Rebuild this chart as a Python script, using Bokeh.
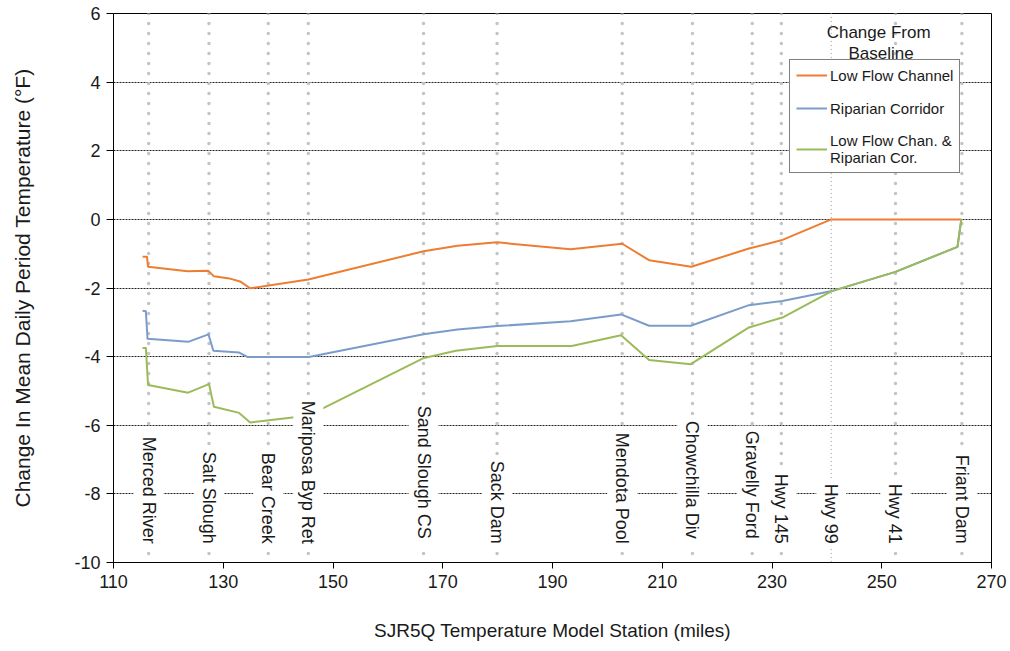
import math
from bokeh.plotting import figure
from bokeh.models import Range1d, FixedTicker, Span, Legend, LegendItem, Label, ColumnDataSource
from bokeh.core.properties import value
from bokeh.embed import file_html
from bokeh.resources import INLINE

# ---- data ----
stations = ["Merced River", "Salt Slough", "Bear Creek", "Mariposa Byp Ret", "Sand Slough  CS",
            "Sack Dam", "Mendota Pool", "Chowchilla  Div", "Gravelly  Ford", "Hwy 145", "Hwy 99",
            "Hwy 41", "Friant Dam"]
station_miles = [116.4, 127.4, 138.2, 145.5, 166.5, 179.9, 202.7, 215.5, 226.4, 231.7, 240.8, 252.5, 264.6]

lfc_x = [115.3, 116.1, 116.3, 123.5, 127.3, 128.3, 131.1, 133.2, 134.1, 134.9, 145.5, 166.5, 172.7,
         179.9, 193.3, 202.7, 207.6, 215.3, 225.8, 231.7, 240.8, 264.5]
lfc_y = [-1.09, -1.09, -1.38, -1.51, -1.50, -1.66, -1.72, -1.82, -1.92, -2.01, -1.75, -0.93, -0.77,
         -0.67, -0.87, -0.71, -1.19, -1.38, -0.85, -0.61, 0.0, 0.0]

rc_x = [115.3, 115.9, 116.2, 123.6, 127.3, 128.2, 132.9, 134.4, 145.6, 166.5, 172.7, 179.9, 193.3,
        202.5, 207.6, 215.2, 225.8, 231.9, 240.9, 252.5, 263.8, 264.5]
rc_y = [-2.66, -2.68, -3.48, -3.57, -3.35, -3.83, -3.88, -4.01, -4.01, -3.35, -3.21, -3.11, -2.97,
        -2.77, -3.10, -3.10, -2.50, -2.38, -2.09, -1.53, -0.80, 0.0]

both_x = [115.3, 115.9, 116.3, 123.6, 127.4, 128.3, 132.9, 134.9, 143.0, 145.5, 166.4, 172.4, 179.9,
          193.5, 202.5, 207.6, 215.2, 225.8, 231.9, 240.9, 252.5, 263.8, 264.5]
both_y = [-3.75, -3.75, -4.83, -5.05, -4.80, -5.46, -5.64, -5.92, -5.77, -5.72, -4.05, -3.83, -3.69,
          -3.69, -3.38, -4.10, -4.22, -3.15, -2.86, -2.09, -1.53, -0.80, 0.0]

series_names = ["Low Flow Channel", "Riparian Corridor", "Low Flow Chan. &\nRiparian Cor."]
x_ticks = [110, 130, 150, 170, 190, 210, 230, 250, 270]
y_ticks = [-10, -8, -6, -4, -2, 0, 2, 4, 6]

FONT = "Liberation Sans"
TXT = "#1a1a1a"

p = figure(width=1010, height=651, output_backend="svg", toolbar_location=None,
           x_range=Range1d(110, 270), y_range=Range1d(-10, 6),
           min_border_left=113, min_border_right=19, min_border_top=13, min_border_bottom=89)
p.background_fill_color = "white"
p.border_fill_color = "white"
p.outline_line_color = "black"
p.outline_line_width = 1

p.xaxis.ticker = FixedTicker(ticks=x_ticks)
p.yaxis.ticker = FixedTicker(ticks=y_ticks)
p.yaxis.major_label_overrides = {t: str(t) for t in y_ticks}
p.xaxis.major_label_overrides = {t: str(t) for t in x_ticks}
for ax in (p.xaxis[0], p.yaxis[0]):
    ax.axis_line_color = "black"
    ax.major_tick_line_color = "black"
    ax.major_tick_in = 0
    ax.minor_tick_line_color = None
    ax.major_label_text_font = FONT
    ax.major_label_text_font_size = "18px"
    ax.major_label_text_color = TXT
    ax.axis_label_text_font = FONT
    ax.axis_label_text_font_style = "normal"
    ax.axis_label_text_color = TXT
p.xaxis.major_tick_out = 6
p.xaxis.major_label_standoff = 6
p.yaxis.major_tick_out = 7
p.yaxis.major_label_standoff = 6
p.xaxis.axis_label = "SJR5Q Temperature Model Station (miles)"
p.xaxis.axis_label_text_font_size = "19px"
p.xaxis.axis_label_standoff = 29
p.yaxis.axis_label = "Change In Mean Daily Period Temperature (\u00b0F)"
p.yaxis.axis_label_text_font_size = "21px"
p.yaxis.axis_label_standoff = 37

p.xgrid.visible = False
p.ygrid.grid_line_color = "#222222"
p.ygrid.grid_line_width = 1
p.ygrid.grid_line_dash = "2 1"

# station dotted verticals
for name, m in zip(stations, station_miles):
    if name == "Hwy 99":
        s = Span(location=m, dimension="height", line_color="#bdbdbd", line_width=1.5,
                 line_dash="0 4", line_cap="round", level="underlay")
    else:
        s = Span(location=m, dimension="height", line_color="#c4c4c4", line_width=3.5,
                 line_dash="0 10", line_cap="round", level="underlay")
    p.add_layout(s)

colors = ["#ED7D31", "#7B9CCB", "#9BBB59"]
r1 = p.line(lfc_x, lfc_y, line_color=colors[0], line_width=2, line_join="round")
r2 = p.line(rc_x, rc_y, line_color=colors[1], line_width=2, line_join="round")
r3 = p.line(both_x, both_y, line_color=colors[2], line_width=2, line_join="round")

label_y = p.y_range.start + 0.4
src = ColumnDataSource(dict(x=station_miles, y=[label_y] * len(stations), t=stations))
p.text(x="x", y="y", text="t", source=src, angle=-math.pi / 2, text_align="right",
       text_baseline="middle", text_font=value(FONT), text_font_size="18px", text_color=TXT,
       background_fill_color="white", padding=5)

legend = Legend(items=[LegendItem(label=series_names[0], renderers=[r1]),
                       LegendItem(label=series_names[1], renderers=[r2]),
                       LegendItem(label=series_names[2], renderers=[r3])],
                location=(676, 389), orientation="vertical")
legend.label_text_font = FONT
legend.label_text_font_size = "15px"
legend.label_text_color = TXT
legend.glyph_width = 31
legend.glyph_height = 18
legend.label_height = 18
legend.spacing = 15
legend.padding = 6
legend.margin = 0
legend.label_standoff = 3
legend.border_line_color = "black"
legend.border_line_width = 1
legend.background_fill_color = "white"
legend.background_fill_alpha = 1
p.add_layout(legend)

for txt, yy in (("Change  From", 530), ("Baseline", 508.7)):
    p.add_layout(Label(x=767.5, y=yy, x_units="screen", y_units="screen", text=txt,
                       text_align="center", text_baseline="middle", text_font=FONT,
                       text_font_size="17px", text_color=TXT))

open("out.html", "w").write(file_html(p, INLINE))
